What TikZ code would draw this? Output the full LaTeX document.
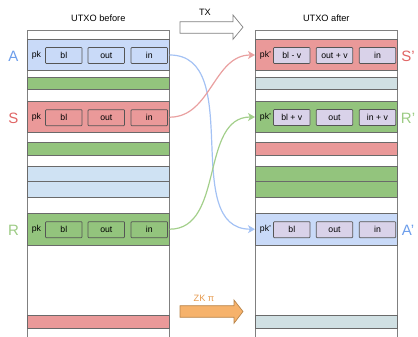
\documentclass[tikz,border=0pt]{standalone}
\usepackage{fontspec}
\setmainfont{Liberation Sans}
\usetikzlibrary{arrows.meta}
\definecolor{blueFill}{HTML}{C9DAF8}
\definecolor{redFill}{HTML}{EA9999}
\definecolor{greenFill}{HTML}{93C47D}
\definecolor{paleBlue}{HTML}{CFE2F3}
\definecolor{paleGray}{HTML}{D0E0E3}
\definecolor{lavender}{HTML}{D9D2E9}
\definecolor{rowLine}{HTML}{6A6A6A}
\definecolor{cellLine}{HTML}{555555}
\definecolor{colLine}{HTML}{808080}
\definecolor{blueText}{HTML}{6D9EEB}
\definecolor{redText}{HTML}{E06666}
\definecolor{greenText}{HTML}{9CCB84}
\definecolor{blueConn}{HTML}{A4C2F4}
\definecolor{redConn}{HTML}{E9A0A0}
\definecolor{greenConn}{HTML}{A3CF8B}
\definecolor{orangeFill}{HTML}{F6B26B}
\definecolor{orangeLine}{HTML}{B8844A}
\definecolor{orangeText}{HTML}{E69A4E}
\begin{document}
\begin{tikzpicture}[x=1pt,y=-1pt,
  rowbox/.style={draw=rowLine, line width=0.7pt, minimum width=142pt, inner sep=0pt},
  cell/.style={draw=cellLine, line width=0.7pt, minimum width=36.5pt, minimum height=16pt, inner sep=0pt, rounded corners=0.8pt, font=\fontsize{8.7}{10}\selectfont},
  pktext/.style={inner sep=0pt, font=\fontsize{8.7}{10}\selectfont},
  title/.style={inner sep=0pt, font=\fontsize{9.2}{11}\selectfont},
  side/.style={inner sep=0pt, font=\fontsize{15}{18}\selectfont},
  conn/.style={line width=1.2pt, -{Stealth[length=7pt,width=8pt,inset=2pt]}}
]
\useasboundingbox (0,0) rectangle (418,337);
% columns
\draw[colLine, line width=0.7pt] (27.3,337) |- (169.3,30) -- (169.3,337);
\draw[colLine, line width=0.7pt] (255.3,337) |- (397.3,30) -- (397.3,337);
% titles
\node[title] (tbefore) at (98.3,18) {UTXO before};
\node[title] (tafter) at (326.3,18) {UTXO after};
% left column rows
\node[rowbox, fill=blueFill, minimum height=31pt] (rowA) at (98.3,55) {};
\node[rowbox, fill=greenFill, minimum height=11.5pt] (lg1) at (98.3,83.5) {};
\node[rowbox, fill=redFill, minimum height=31pt] (rowS) at (98.3,117.2) {};
\node[rowbox, fill=greenFill, minimum height=13pt] (lg2) at (98.3,148.5) {};
\node[rowbox, fill=paleBlue, minimum height=15.5pt] (lb1) at (98.3,173.6) {};
\node[rowbox, fill=paleBlue, minimum height=16pt] (lb2) at (98.3,189.3) {};
\node[rowbox, fill=greenFill, minimum height=31.5pt] (rowR) at (98.3,229.2) {};
\node[rowbox, fill=redFill, minimum height=13.3pt] (lr1) at (98.3,321.7) {};
% right column rows
\node[rowbox, fill=redFill, minimum height=31pt] (rowSp) at (326.3,55) {};
\node[rowbox, fill=paleGray, minimum height=11.5pt] (rg1) at (326.3,83.5) {};
\node[rowbox, fill=greenFill, minimum height=31.5pt] (rowRp) at (326.3,117) {};
\node[rowbox, fill=redFill, minimum height=13pt] (rr1) at (326.3,148.5) {};
\node[rowbox, fill=greenFill, minimum height=15.5pt] (rgr1) at (326.3,173.6) {};
\node[rowbox, fill=greenFill, minimum height=16pt] (rgr2) at (326.3,189.3) {};
\node[rowbox, fill=blueFill, minimum height=31.5pt] (rowAp) at (326.3,229.2) {};
\node[rowbox, fill=paleGray, minimum height=13.3pt] (rp1) at (326.3,321.7) {};
% left cells
\node[pktext] (Apk) at (36.5,55.5) {pk};
\node[cell] (Abl) at (63.8,55.5) {bl};
\node[cell] (Aout) at (106.3,55.5) {out};
\node[cell] (Ain) at (149.3,55.5) {in};
\node[pktext] (Spk) at (36.5,117.7) {pk};
\node[cell] (Sbl) at (63.8,117.7) {bl};
\node[cell] (Sout) at (106.3,117.7) {out};
\node[cell] (Sin) at (149.3,117.7) {in};
\node[pktext] (Rpk) at (36.5,229.7) {pk};
\node[cell] (Rbl) at (63.8,229.7) {bl};
\node[cell] (Rout) at (106.3,229.7) {out};
\node[cell] (Rin) at (149.3,229.7) {in};
% right cells
\node[pktext] (Sppk) at (265.5,55.5) {pk'};
\node[cell, fill=lavender] (Spbl) at (291.8,55.5) {bl - v};
\node[cell, fill=lavender] (Spout) at (334.5,55.5) {out + v};
\node[cell, fill=lavender] (Spin) at (377.5,55.5) {in};
\node[pktext] (Rppk) at (265.5,117.5) {pk'};
\node[cell, fill=lavender] (Rpbl) at (291.8,117.5) {bl + v};
\node[cell, fill=lavender] (Rpout) at (334.5,117.5) {out};
\node[cell, fill=lavender] (Rpin) at (377.5,117.5) {in + v};
\node[pktext] (Appk) at (265.5,229.7) {pk'};
\node[cell, fill=lavender] (Apbl) at (291.8,229.7) {bl};
\node[cell, fill=lavender] (Apout) at (334.5,229.7) {out};
\node[cell, fill=lavender] (Apin) at (377.5,229.7) {in};
% side labels
\node[side, text=blueText] (labA) at (13.5,56) {A};
\node[side, text=redText] (labS) at (13.5,118) {S};
\node[side, text=greenText] (labR) at (13.5,230) {R};
\node[side, text=redText] (labSp) at (408,56) {S'};
\node[side, text=greenText] (labRp) at (408,118) {R'};
\node[side, text=blueText] (labAp) at (408,230) {A'};
% connectors
\draw[conn, blueConn] (rowA.east) to[out=0,in=180] (rowAp.west);
\draw[conn, redConn] (rowS.east) to[out=0,in=180] (rowSp.west);
\draw[conn, greenConn] (rowR.east) to[out=0,in=180] (rowRp.west);
% TX block arrow
\node[title] (tx) at (205,12) {TX};
\draw[colLine, fill=white, line width=0.7pt] (180,21.7) -- (233,21.7) -- (233,15) -- (243,27.2) -- (233,39.3) -- (233,33.3) -- (180,33.3) -- cycle;
% ZK block arrow
\node[title, text=orangeText] (zk) at (204,298) {ZK π};
\draw[orangeLine, fill=orangeFill, line width=0.7pt] (180,305.7) -- (234,305.7) -- (234,300) -- (243,311.5) -- (234,323.3) -- (234,317.3) -- (180,317.3) -- cycle;
\end{tikzpicture}
\end{document}
